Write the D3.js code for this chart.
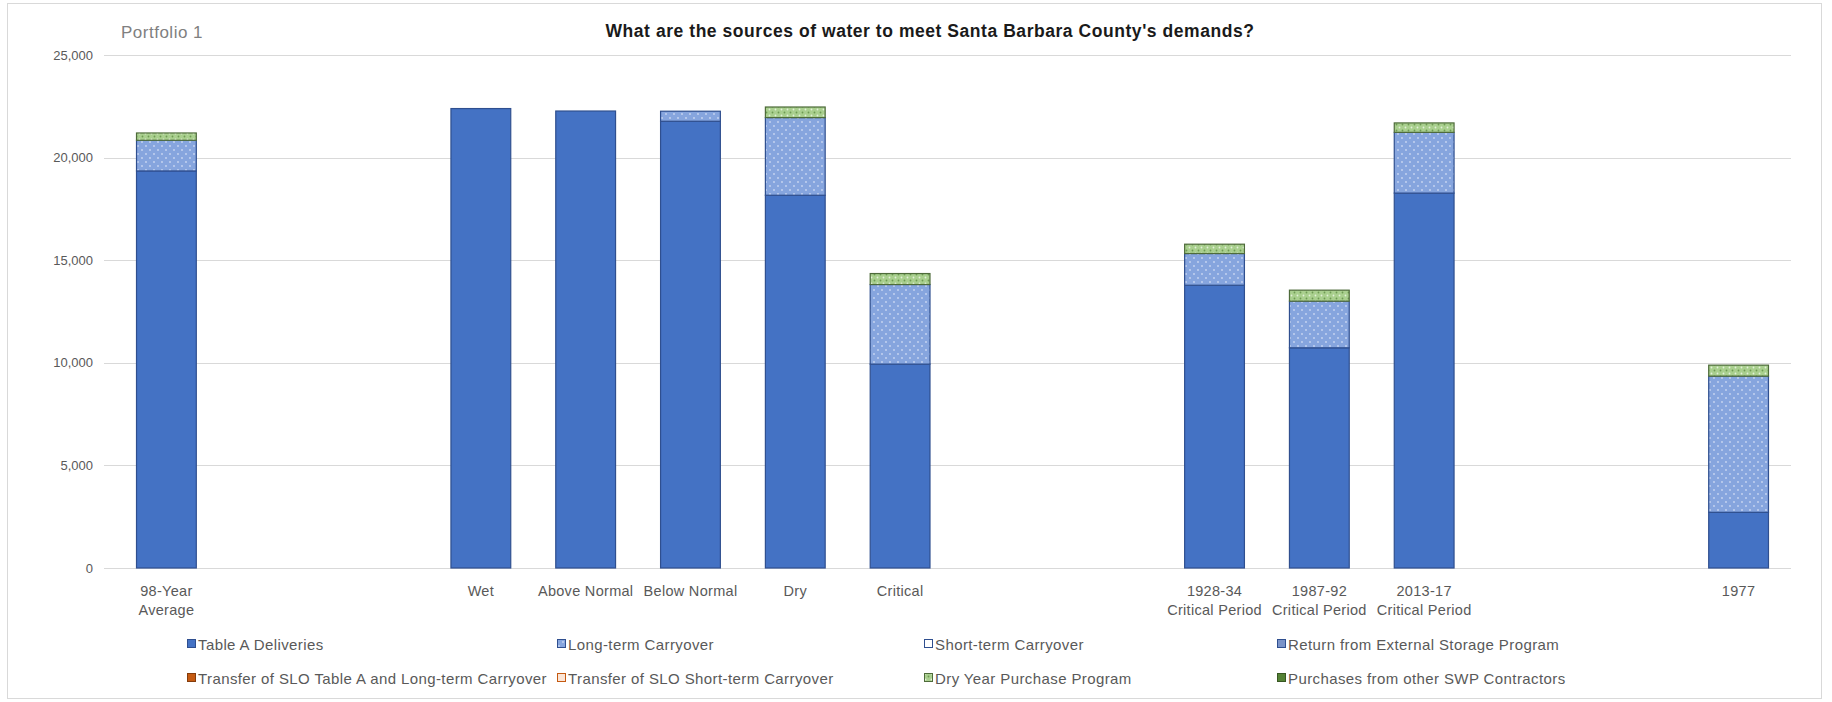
<!DOCTYPE html>
<html>
<head>
<meta charset="utf-8">
<script src="https://cdn.jsdelivr.net/npm/d3@7"></script>
<style>
  html, body { margin: 0; padding: 0; background: #fff; }
  svg { display: block; }
  text { font-family: "Liberation Sans", Arial, sans-serif; }
</style>
</head>
<body>
<svg id="chart" width="1832" height="702"></svg>
<script>
// ---------- DATA ----------
const categories = [
  "98-Year\nAverage", "", "", "Wet", "Above Normal", "Below Normal", "Dry", "Critical",
  "", "", "1928-34\nCritical Period", "1987-92\nCritical Period", "2013-17\nCritical Period",
  "", "", "1977"
];
const tableADeliveries   = [19350, 0, 0, 22390, 22270, 21770, 18165, 9935, 0, 0, 13780, 10730, 18270, 0, 0, 2713];
const longTermCarryover  = [1495, 0, 0, 0, 0, 490, 3785, 3880, 0, 0, 1545, 2274, 2960, 0, 0, 6637];
const shortTermCarryover = [0, 0, 0, 0, 0, 0, 0, 0, 0, 0, 0, 0, 0, 0, 0, 0];
const returnExternal     = [0, 0, 0, 0, 0, 0, 0, 0, 0, 0, 0, 0, 0, 0, 0, 0];
const transferSLOTableA  = [0, 0, 0, 0, 0, 0, 0, 0, 0, 0, 0, 0, 0, 0, 0, 0];
const transferSLOShort   = [0, 0, 0, 0, 0, 0, 0, 0, 0, 0, 0, 0, 0, 0, 0, 0];
const dryYearPurchase    = [355, 0, 0, 0, 0, 0, 516, 535, 0, 0, 455, 536, 460, 0, 0, 536];
const purchasesOtherSWP  = [0, 0, 0, 0, 0, 0, 0, 0, 0, 0, 0, 0, 0, 0, 0, 0];
const seriesNames = [
  "Table A Deliveries", "Long-term Carryover", "Short-term Carryover", "Return from External Storage Program",
  "Transfer of SLO Table A and Long-term Carryover", "Transfer of SLO Short-term Carryover",
  "Dry Year Purchase Program", "Purchases from other SWP Contractors"
];
const yTicks = [0, 5000, 10000, 15000, 20000, 25000];
const chartTitle = "What are the sources of water to meet Santa Barbara County's demands?";
const portfolioLabel = "Portfolio 1";

// ---------- BUILD TABLE ----------
const seriesValues = [tableADeliveries, longTermCarryover, shortTermCarryover, returnExternal,
  transferSLOTableA, transferSLOShort, dryYearPurchase, purchasesOtherSWP];
const rows = categories.map((c, i) => {
  const r = { idx: i, label: c };
  seriesNames.forEach((s, k) => r[s] = seriesValues[k][i]);
  return r;
});

// ---------- STYLES ----------
const fills = {
  "Table A Deliveries": "#4472C4",
  "Long-term Carryover": "url(#patLT)",
  "Short-term Carryover": "#FFFFFF",
  "Return from External Storage Program": "#7A93C8",
  "Transfer of SLO Table A and Long-term Carryover": "#C55A11",
  "Transfer of SLO Short-term Carryover": "#FBE5D6",
  "Dry Year Purchase Program": "url(#patDY)",
  "Purchases from other SWP Contractors": "#548235"
};
const strokes = {
  "Table A Deliveries": "#2F4F8F",
  "Long-term Carryover": "#2F4F8F",
  "Short-term Carryover": "#2F4F8F",
  "Return from External Storage Program": "#2F4F8F",
  "Transfer of SLO Table A and Long-term Carryover": "#843C0C",
  "Transfer of SLO Short-term Carryover": "#C55A11",
  "Dry Year Purchase Program": "#4E6B3A",
  "Purchases from other SWP Contractors": "#385723"
};

const svg = d3.select("#chart");
const defs = svg.append("defs");
const pLT = defs.append("pattern").attr("id", "patLT").attr("patternUnits", "userSpaceOnUse")
  .attr("width", 8).attr("height", 8);
pLT.append("rect").attr("width", 8).attr("height", 8).attr("fill", "#86A5DE");
pLT.append("circle").attr("cx", 2).attr("cy", 2).attr("r", 0.9).attr("fill", "#C9D7F2");
pLT.append("circle").attr("cx", 6).attr("cy", 6).attr("r", 0.9).attr("fill", "#C9D7F2");
const pDY = defs.append("pattern").attr("id", "patDY").attr("patternUnits", "userSpaceOnUse")
  .attr("width", 6).attr("height", 6);
pDY.append("rect").attr("width", 6).attr("height", 6).attr("fill", "#A9CF8E");
pDY.append("circle").attr("cx", 1.5).attr("cy", 1.5).attr("r", 0.9).attr("fill", "#E2F0D9");
pDY.append("circle").attr("cx", 4.5).attr("cy", 4.5).attr("r", 0.9).attr("fill", "#6E9A52");

// ---------- FRAME ----------
svg.append("rect").attr("x", 7.5).attr("y", 3.5).attr("width", 1814).attr("height", 695)
  .attr("fill", "#fff").attr("stroke", "#D9D9D9").attr("stroke-width", 1);

// ---------- SCALES ----------
const x = d3.scaleBand().domain(d3.range(categories.length)).range([114, 1791])
  .paddingInner(0.42).paddingOuter(0.21);
const y = d3.scaleLinear().domain([0, 25000]).range([568, 55]);

// gridlines
svg.append("g").selectAll("line").data(yTicks).join("line")
  .attr("x1", 104).attr("x2", 1791)
  .attr("y1", d => Math.round(y(d)) + 0.5).attr("y2", d => Math.round(y(d)) + 0.5)
  .attr("stroke", "#D9D9D9").attr("stroke-width", 1);

// y axis labels
const yAxis = d3.axisLeft(y).tickValues(yTicks).tickSize(0).tickPadding(0)
  .tickFormat(d3.format(","));
const gy = svg.append("g").attr("transform", "translate(93,0)").call(yAxis);
gy.select(".domain").remove();
gy.selectAll("text").attr("fill", "#595959").style("font-size", "13px")
  .style("font-family", '"Liberation Sans", Arial, sans-serif');

// ---------- BARS ----------
const stack = d3.stack().keys(seriesNames);
const stacked = stack(rows);
const gBars = svg.append("g");
stacked.forEach(layer => {
  gBars.append("g").selectAll("rect")
    .data(layer.filter(d => d[1] - d[0] > 0))
    .join("rect")
    .attr("x", d => x(d.data.idx) + 0.5)
    .attr("width", x.bandwidth() - 1)
    .attr("y", d => y(d[1]))
    .attr("height", d => y(d[0]) - y(d[1]))
    .attr("fill", fills[layer.key])
    .attr("stroke", strokes[layer.key])
    .attr("stroke-width", 1.2);
});

// ---------- X AXIS LABELS ----------
const xAxis = d3.axisBottom(x).tickSize(0).tickFormat(i => "");
const gx = svg.append("g").attr("transform", "translate(0,568)").call(xAxis);
gx.select(".domain").remove();
gx.selectAll(".tick").each(function(i) {
  const lines = categories[i].split("\n");
  const t = d3.select(this).append("text")
    .attr("fill", "#595959").attr("text-anchor", "middle")
    .style("font-size", "14.5px").style("letter-spacing", "0.3px");
  lines.forEach((ln, k) => {
    t.append("tspan").attr("x", 0).attr("y", 28 + k * 19).text(ln);
  });
});

// ---------- TITLES ----------
svg.append("text").attr("x", 930).attr("y", 37).attr("text-anchor", "middle")
  .attr("fill", "#1a1a1a").style("font-size", "17.5px").style("font-weight", "bold")
  .style("letter-spacing", "0.55px")
  .text(chartTitle);
svg.append("text").attr("x", 121).attr("y", 38)
  .attr("fill", "#808080").style("font-size", "17px").style("letter-spacing", "0.5px")
  .text(portfolioLabel);

// ---------- LEGEND ----------
const legX = [187, 557, 924, 1277];
const legY = [644, 678];
const gL = svg.append("g");
seriesNames.forEach((s, k) => {
  const col = k % 4, row = Math.floor(k / 4);
  const g = gL.append("g").attr("transform", `translate(${legX[col]},${legY[row]})`);
  g.append("rect").attr("x", 0.5).attr("y", -4.5).attr("width", 8).attr("height", 8)
    .attr("fill", fills[s]).attr("stroke", strokes[s]).attr("stroke-width", 1);
  g.append("text").attr("x", 11).attr("y", 5.5).attr("fill", "#595959")
    .style("font-size", "15px").style("letter-spacing", "0.4px").text(s);
});
</script>
</body>
</html>
